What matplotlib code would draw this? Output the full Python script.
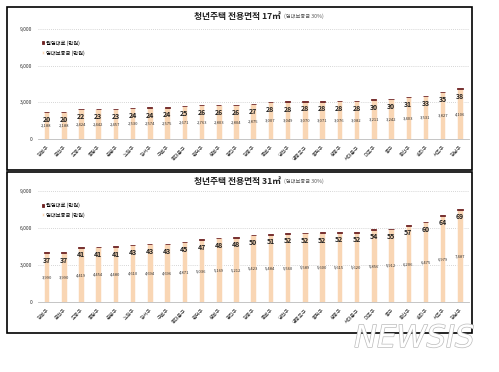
import matplotlib
matplotlib.use("Agg")
import matplotlib.pyplot as plt
from matplotlib.patches import Rectangle
import matplotlib.patheffects as pe

plt.rcParams["font.family"] = ["Noto Sans CJK KR", "DejaVu Sans"]

# district names, same order in both panels
districts = ["강북구", "금천구", "도봉구", "중랑구", "은평구", "노원구", "강서구", "구로구",
             "동대문구", "관악구", "성북구", "광진구", "강동구", "종로구", "양천구", "영등포구",
             "동작구", "성동구", "서대문구", "마포구", "중구", "용산구", "송파구", "서초구", "강남구"]

# 17m2: monthly rent and deposit (만원)
rent_17 = [20, 20, 22, 23, 23, 24, 24, 24, 25, 26, 26, 26, 27, 28, 28, 28, 28, 28, 28,
           30, 30, 31, 33, 35, 38]
deposit_17 = [2188, 2188, 2424, 2442, 2457, 2530, 2574, 2575, 2671, 2763, 2803, 2804, 2875,
              3007, 3049, 3070, 3071, 3076, 3082, 3211, 3242, 3403, 3531, 3827, 4106]

# 31m2: monthly rent and deposit (만원)
rent_31 = [37, 37, 41, 41, 41, 43, 43, 43, 45, 47, 48, 48, 50, 51, 52, 52, 52, 52, 52,
           54, 55, 57, 60, 64, 69]
deposit_31 = [3990, 3990, 4419, 4454, 4480, 4610, 4694, 4696, 4871, 5036, 5169, 5212, 5423,
              5484, 5560, 5589, 5600, 5615, 5620, 5856, 5912, 6206, 6475, 6979, 7487]

yticks = [0, 3000, 6000, 9000]

tan = "#F9D6B4"
dark = "#6E2222"
grid_color = "#C8C8C8"
text_color = "#333333"


def draw_panel(ax, rent, deposit):
    x = list(range(len(districts)))
    dep_bars = ax.bar(x, deposit, width=0.32, color=tan, edgecolor="white", linewidth=0.4,
                      label="임대보증금 (만원)", zorder=2)
    # rent is tiny next to the deposit, so it shows as a thin cap on each bar
    ax.bar(x, rent, width=0.30, bottom=deposit, color=dark, edgecolor=dark,
           linewidth=0.6, label="월임대료 (만원)", zorder=3)
    # deposit labels in the middle of each bar
    ax.bar_label(dep_bars, labels=[f"{v:,}" for v in deposit], label_type="center",
                 fontsize=3.0, color=text_color)
    # rent labels just under the bar top
    for i, (r, d) in enumerate(zip(rent, deposit)):
        ax.annotate(str(r), xy=(i, d + r), xytext=(0, -3), textcoords="offset points",
                    ha="center", va="top", fontsize=5.0, fontweight="bold", color="#222222",
                    zorder=4)
    ax.set_xlim(-0.5, len(districts) - 0.5)
    ax.set_ylim(0, 9000)
    ax.set_yticks(yticks)
    ax.set_yticklabels([f"{v:,}" for v in yticks], fontsize=3.6, color=text_color)
    ax.set_xticks(x)
    ax.set_xticklabels(districts, rotation=45, ha="right", rotation_mode="anchor",
                       fontsize=3.6, color=text_color)
    ax.tick_params(axis="both", length=0, pad=4)
    ax.grid(axis="y", linestyle=(0, (1, 1.5)), color=grid_color, linewidth=0.6, zorder=0)
    for side in ["top", "right", "left"]:
        ax.spines[side].set_visible(False)
    ax.spines["bottom"].set_color("#BBBBBB")
    ax.spines["bottom"].set_linewidth(0.6)
    handles, labels = ax.get_legend_handles_labels()
    ax.legend(handles[::-1], labels[::-1], loc="upper left", bbox_to_anchor=(0.0, 0.93),
              frameon=False, fontsize=3.8, handlelength=0.5, handleheight=0.5,
              handletextpad=0.4, labelspacing=0.8, borderaxespad=0.3)
    ax.set_facecolor("white")


fig = plt.figure(figsize=(4.99, 3.72), dpi=100)

ax_top = fig.add_axes([0.076, 0.626, 0.863, 0.296])
draw_panel(ax_top, rent_17, deposit_17)

ax_bottom = fig.add_axes([0.076, 0.188, 0.863, 0.298])
draw_panel(ax_bottom, rent_31, deposit_31)

# panel titles
for y, size in [(0.955, "17㎡"), (0.512, "31㎡")]:
    fig.text(0.563, y, f"청년주택 전용면적 {size}", ha="right", va="center",
             fontsize=6.3, fontweight="bold", color="#222222")
    fig.text(0.569, y, "(임대보증금 30%)", ha="left", va="center",
             fontsize=3.8, color="#555555")

# panel frames
fig.patches.append(Rectangle((0.014, 0.543), 0.932, 0.438, transform=fig.transFigure,
                             fill=False, edgecolor="black", linewidth=1.2))
fig.patches.append(Rectangle((0.014, 0.105), 0.932, 0.433, transform=fig.transFigure,
                             fill=False, edgecolor="black", linewidth=1.2))

# watermark
fig.text(0.83, 0.09, "NEWSIS", ha="center", va="center", fontsize=22, style="italic",
         family="DejaVu Sans", color="white",
         path_effects=[pe.withStroke(linewidth=1.0, foreground="#BBBBBB")])

fig.savefig("out.png", dpi=100)
